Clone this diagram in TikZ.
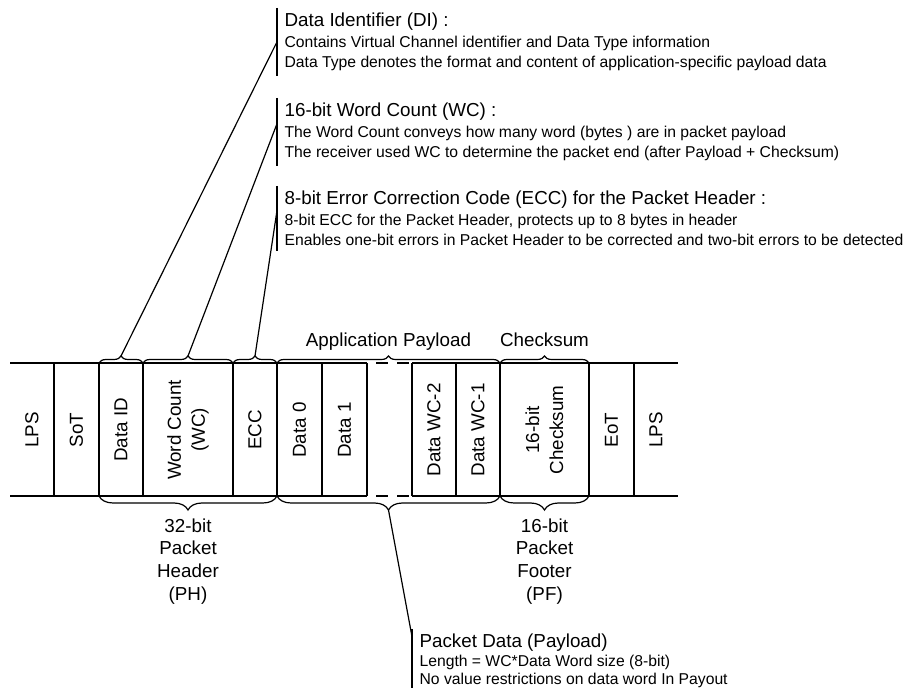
\documentclass[tikz,border=0pt]{standalone}
\usepackage{fontspec}
\setmainfont{Liberation Sans}
\usetikzlibrary{positioning,calc,decorations.pathreplacing}
\newcommand{\notehead}[1]{{\fontsize{9.4}{11.3}\selectfont #1}}

\begin{document}
\begin{tikzpicture}[x=0.5pt, y=-0.5pt, line width=0.6pt,
    field/.style={rotate=90, align=center, inner sep=0pt, font=\fontsize{9.4}{12}\selectfont},
    span/.style={align=center, inner sep=0pt, font=\fontsize{9.4}{11.3}\selectfont},
    note/.style={anchor=north west, align=left, inner xsep=3.5pt, inner ysep=2pt, font=\fontsize{7.85}{10.4}\selectfont},
    upbrace/.style={decorate, decoration={brace, amplitude=3.5pt}},
    downbrace/.style={decorate, decoration={brace, mirror, amplitude=7pt}},
    gapline/.style={dash pattern=on 6pt off 4.5pt}]
        \useasboundingbox (0,0) rectangle (905,688);
        % Packet frame (open gap between Data 1 and Data WC-2)
        \draw (10,363) -- (367,363); \draw[gapline] (376,363) -- (409,363); \draw (412,363) -- (678,363);
        \draw (10,496) -- (367,496); \draw[gapline] (376,496) -- (409,496); \draw (412,496) -- (678,496);
        \draw (54,363) -- (54,496) (99,363) -- (99,496) (143,363) -- (143,496) (233,363) -- (233,496)
              (277,363) -- (277,496) (322,363) -- (322,496) (367,363) -- (367,496) (412,363) -- (412,496)
              (456,363) -- (456,496) (500,363) -- (500,496) (589,363) -- (589,496) (634,363) -- (634,496);
        % Packet fields
        \node[field] (lpsA) at (32,430) {LPS};
        \node[field] (sot) at (76.5,430) {SoT};
        \node[field] (dataid) at (121,430) {Data ID};
        \node[field] (wordcount) at (188,430) {Word Count\\(WC)};
        \node[field] (ecc) at (255,430) {ECC};
        \node[field] (data0) at (299.5,430) {Data 0};
        \node[field] (data1) at (344.5,430) {Data 1};
        \node[field] (datam2) at (434,430) {Data WC-2};
        \node[field] (datam1) at (478,430) {Data WC-1};
        \node[field] (checksum) at (544.5,430) {16-bit\\Checksum};
        \node[field] (eot) at (611.5,430) {EoT};
        \node[field] (lpsB) at (656,430) {LPS};
        % Upper braces
        \draw[upbrace] (99,363) -- (143,363);
        \draw[upbrace] (143,363) -- (233,363);
        \draw[upbrace] (233,363) -- (277,363);
        \draw[upbrace] (277,363) -- (500,363);
        \draw[upbrace] (500,363) -- (589,363);
        \coordinate (ditip) at (121,356);
        \coordinate (wctip) at (188,356);
        \coordinate (ecctip) at (255,356);
        \node[span, anchor=base] (appl) at (388.5,347) {Application Payload};
        \node[span, anchor=base] (cslabel) at (544.5,347) {Checksum};
        % Lower braces
        \draw[downbrace] (99,496) -- (277,496);
        \draw[downbrace] (277,496) -- (500,496);
        \draw[downbrace] (500,496) -- (589,496);
        \coordinate (phtip) at (188,510);
        \coordinate (pdtip) at (388.5,510);
        \coordinate (pftip) at (544.5,510);
        \node[span, below=4pt of phtip] (ph) {32-bit\\Packet\\Header\\(PH)};
        \node[span, below=4pt of pftip] (pf) {16-bit\\Packet\\Footer\\(PF)};
        % Header field notes
        \node[note] (dinote) at (277,8) {\notehead{Data Identifier (DI) :}\\Contains Virtual Channel identifier and Data Type information\\Data Type denotes the format and content of application-specific payload data};
        \node[note] (wcnote) at (277,98) {\notehead{16-bit Word Count (WC) :}\\The Word Count conveys how many word (bytes ) are in packet payload\\The receiver used WC to determine the packet end (after Payload + Checksum)};
        \node[note] (eccnote) at (277,186) {\notehead{8-bit Error Correction Code (ECC) for the Packet Header :}\\8-bit ECC for the Packet Header, protects up to 8 bytes in header\\Enables one-bit errors in Packet Header to be corrected and two-bit errors to be detected};
        \draw (dinote.north west) -- (dinote.south west);
        \draw (wcnote.north west) -- (wcnote.south west);
        \draw (eccnote.north west) -- (eccnote.south west);
        \draw (ditip) -- (dinote.west);
        \draw (wctip) -- ($(wcnote.north west)!0.38!(wcnote.south west)$);
        \draw (ecctip) -- ($(eccnote.north west)!0.38!(eccnote.south west)$);
        % Payload note
        \node[note, font=\fontsize{7.85}{9.4}\selectfont] (pdnote) at (412,629) {\notehead{Packet Data (Payload)}\\Length = WC*Data Word size (8-bit)\\No value restrictions on data word In Payout};
        \draw (pdnote.north west) -- (pdnote.south west);
        \draw (pdtip) -- ($(pdnote.north west)!0.12!(pdnote.south west)$);
    \end{tikzpicture}
\end{document}
